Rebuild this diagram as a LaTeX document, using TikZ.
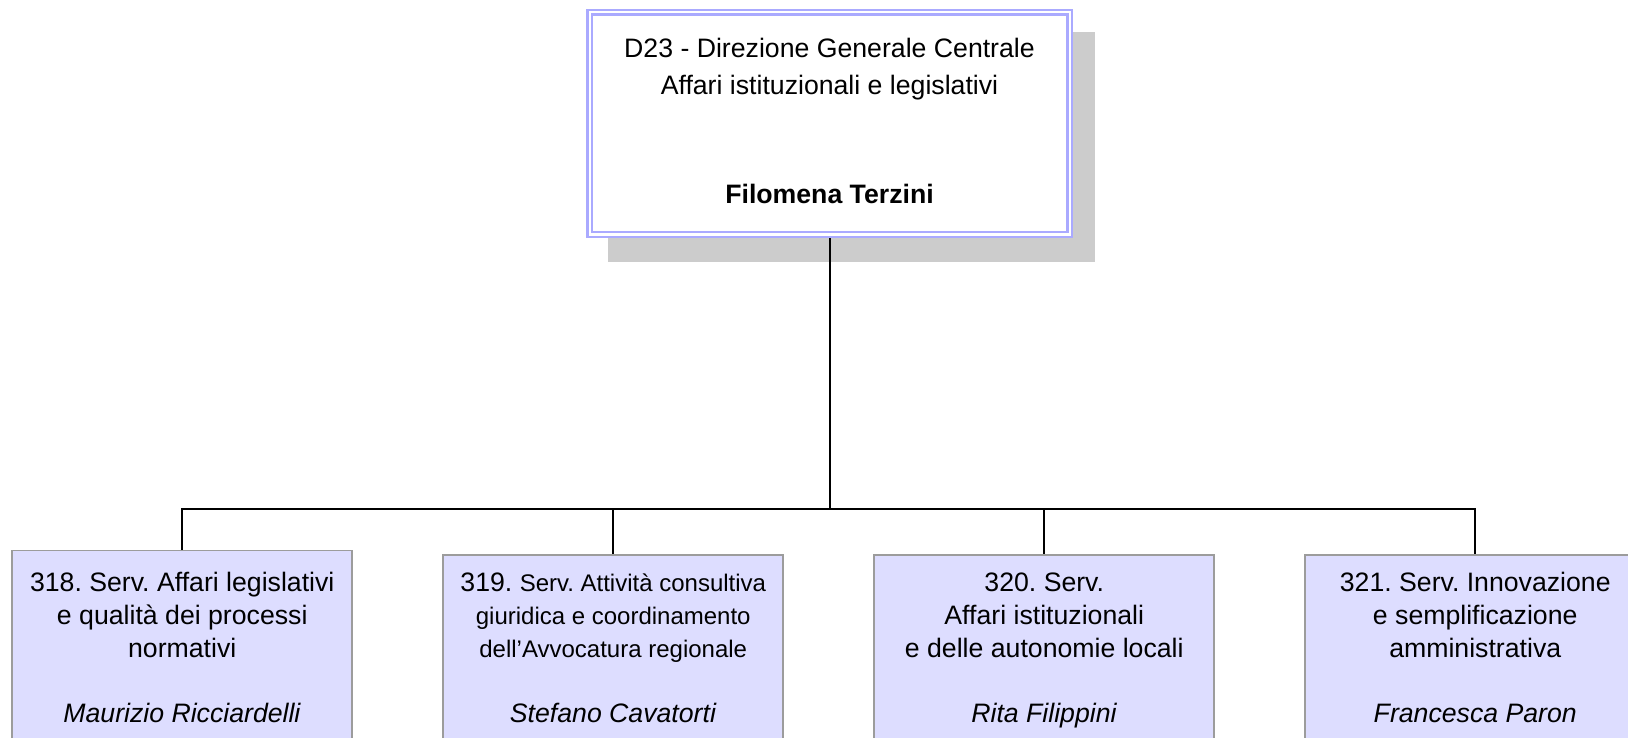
\documentclass[tikz,border=0pt]{standalone}
\usepackage{fontspec}
\setmainfont{Liberation Sans}
\usepackage{xcolor}
\usepackage{tikz}
\usetikzlibrary{backgrounds}
\frenchspacing

\definecolor{dirblue}{HTML}{AAAAFF}
\definecolor{unitfill}{HTML}{DDDDFF}
\definecolor{unitline}{HTML}{9C9C9C}
\definecolor{shadowgray}{HTML}{CCCCCC}
\newcommand{\smallunit}{\fontsize{18}{24.75}\selectfont}

\begin{document}
\begin{tikzpicture}[x=0.75pt, y=-0.75pt, node distance={323.25pt},
  dir/.style = {draw=dirblue, double=white, line width=1.875pt, double distance=1.5pt, fill=white, outer sep=0pt, inner sep=0pt, minimum width=360pt, minimum height=166.5pt, align=center, font=\fontsize{20}{27.5}\selectfont},
  unit/.style = {draw=unitline, line width=1.2pt, fill=unitfill, outer sep=0pt, inner sep=0pt, minimum width=255pt, minimum height=142.5pt, align=center, font=\fontsize{20}{24.75}\selectfont},
  link/.style = {line width=1.5pt, black}]
\useasboundingbox (0,0) rectangle (1628,738);
\clip (0,0) rectangle (1628,738);
\node[dir] (d23) at (829.5,123.5) {\strut D23 - Direzione Generale Centrale\\Affari istituzionali e legislativi\\[54.25pt]\textbf{Filomena Terzini}\strut};
\node[unit, minimum height=149.25pt] (s318) at (182.25,650) {\strut 318. Serv. Affari legislativi\\e qualità dei processi\\normativi\\[24pt]\textit{Maurizio Ricciardelli}\strut};
\node[unit] (s319) [right of=s318] {\strut 319. \smallunit Serv. Attività consultiva\\\smallunit giuridica e coordinamento\\\smallunit dell’Avvocatura regionale\\[24pt]\textit{Stefano Cavatorti}\strut};
\node[unit] (s320) [right of=s319] {\strut 320. Serv.\\Affari istituzionali\\e delle autonomie locali\\[24pt]\textit{Rita Filippini}\strut};
\node[unit] (s321) [right of=s320] {\strut 321. Serv. Innovazione\\e semplificazione\\amministrativa\\[24pt]\textit{Francesca Paron}\strut};
\begin{scope}[on background layer]
\fill[shadowgray] ([shift={(18.5,19.5)}]d23.north west) rectangle ([shift={(25.5,27)}]d23.south east);
\draw[link] (d23.south) -- ++(0,274.5) coordinate (bus);
\draw[link] (bus) -| (s318.north);
\draw[link] (bus) -| (s319.north);
\draw[link] (bus) -| (s320.north);
\draw[link] (bus) -| (s321.north);
\end{scope}
\end{tikzpicture}
\end{document}
